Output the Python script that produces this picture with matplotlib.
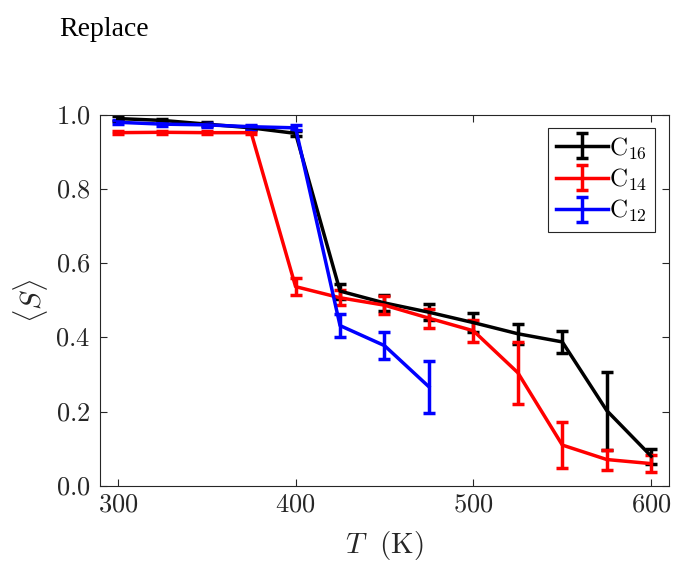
import matplotlib
matplotlib.use("Agg")
import matplotlib.pyplot as plt

plt.rcParams['font.family'] = ['Liberation Serif', 'DejaVu Serif']
plt.rcParams['mathtext.fontset'] = 'cm'

# temperatures (K)
T16 = [300, 325, 350, 375, 400, 425, 450, 475, 500, 525, 550, 575, 600]
T14 = [300, 325, 350, 375, 400, 425, 450, 475, 500, 525, 550, 575, 600]
T12 = [300, 325, 350, 375, 400, 425, 450, 475]

# <S> values
S16 = [0.990, 0.985, 0.975, 0.965, 0.950, 0.525, 0.493, 0.468, 0.440, 0.410, 0.388, 0.203, 0.080]
S14 = [0.952, 0.953, 0.952, 0.952, 0.537, 0.507, 0.487, 0.452, 0.418, 0.305, 0.110, 0.071, 0.060]
S12 = [0.980, 0.975, 0.973, 0.968, 0.965, 0.432, 0.378, 0.267]

# error bars
E16 = [0.006, 0.005, 0.005, 0.005, 0.007, 0.020, 0.022, 0.022, 0.026, 0.027, 0.029, 0.105, 0.020]
E14 = [0.004, 0.004, 0.004, 0.004, 0.022, 0.020, 0.024, 0.026, 0.030, 0.083, 0.062, 0.027, 0.022]
E12 = [0.005, 0.005, 0.005, 0.005, 0.007, 0.032, 0.037, 0.070]

labels = [r'$\mathrm{C}_{16}$', r'$\mathrm{C}_{14}$', r'$\mathrm{C}_{12}$']
colors = ['black', 'red', 'blue']

xticks = [300, 400, 500, 600]
yticks = [0.0, 0.2, 0.4, 0.6, 0.8, 1.0]

fig = plt.figure(figsize=(6.78, 5.63), dpi=100)
ax = fig.add_axes([0.1475, 0.137, 0.8392, 0.659])

for T, S, E, lab, c in zip([T16, T14, T12], [S16, S14, S12], [E16, E14, E12], labels, colors):
    ax.errorbar(T, S, yerr=E, color=c, lw=2.5, elinewidth=2.5, capsize=4.5,
                capthick=2.5, label=lab)

ax.set_xlim(290, 610)
ax.set_ylim(0, 1.0)
ax.set_xticks(xticks)
ax.set_xticklabels([r'$%d$' % v for v in xticks])
ax.set_yticks(yticks)
ax.set_yticklabels([r'$%.1f$' % v for v in yticks])
ax.tick_params(direction='in', top=True, right=True, labelsize=19, colors='#262626',
               length=5, width=0.8)
ax.tick_params(axis='x', pad=6)
ax.tick_params(axis='y', pad=7)
for s in ax.spines.values():
    s.set_color('#262626')
    s.set_linewidth(0.8)

ax.set_xlabel(r'$T\ \ (\mathrm{K})$', fontsize=21, color='#262626', labelpad=9)
ax.set_ylabel(r'$\langle S \rangle$', fontsize=21, color='#262626', labelpad=4)

leg = ax.legend(loc='upper right', fontsize=18, fancybox=False, framealpha=1,
                edgecolor='#262626', handlelength=2.1, handletextpad=0.05,
                borderpad=0.3, labelspacing=0.22, borderaxespad=0,
                bbox_to_anchor=(0.9755, 0.965))
leg.get_frame().set_linewidth(0.8)

fig.text(0.088, 0.947, 'Replace', fontsize=20, ha='left', va='center')

fig.savefig('out.png', dpi=100)
